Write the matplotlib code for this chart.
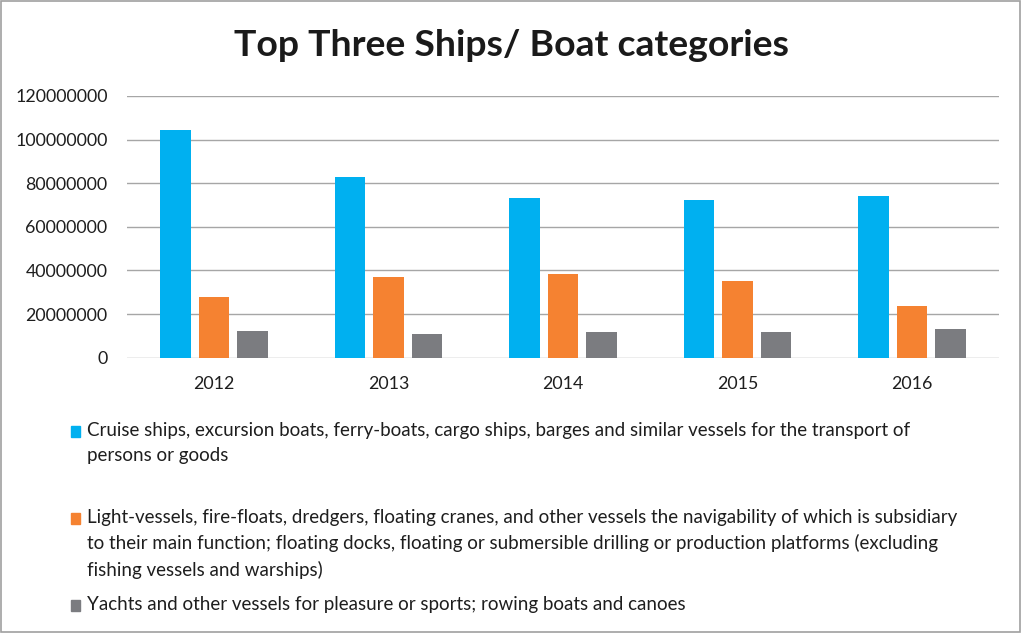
import matplotlib.pyplot as plt
import matplotlib.patches as mpatches
import numpy as np

years = ["2012", "2013", "2014", "2015", "2016"]
cruise = [104400000, 83000000, 73100000, 72200000, 74000000]
light = [27700000, 37100000, 38500000, 35300000, 23800000]
yachts = [12400000, 10900000, 11900000, 11800000, 13200000]

series_names = [
    "Cruise ships, excursion boats, ferry-boats, cargo ships, barges and similar vessels for the transport of\npersons or goods",
    "Light-vessels, fire-floats, dredgers, floating cranes, and other vessels the navigability of which is subsidiary\nto their main function; floating docks, floating or submersible drilling or production platforms (excluding\nfishing vessels and warships)",
    "Yachts and other vessels for pleasure or sports; rowing boats and canoes",
]
colors = ["#00B0F0", "#F58231", "#7B7C80"]

plt.rcParams['font.family'] = ['Lato', 'DejaVu Sans']

fig = plt.figure(figsize=(10.22, 6.35), dpi=100)
ax = fig.add_axes([127 / 1022, 1 - 357.7 / 635, (999 - 127) / 1022, (357.7 - 96) / 635])

x = np.arange(len(years))
w = 0.175
step = 0.221
for k, vals in enumerate([cruise, light, yachts]):
    ax.bar(x + (k - 1) * step, vals, width=w, color=colors[k], zorder=3)

ax.set_xlim(-0.5, len(years) - 0.5)
ax.set_ylim(0, 120000000)
ax.set_yticks(np.arange(0, 120000001, 20000000))
ax.set_yticklabels([str(v) for v in range(0, 120000001, 20000000)])
ax.set_xticks(x)
ax.set_xticklabels(years)
ax.tick_params(length=0, labelsize=12.8, colors="#1e1e1e", pad=13)
ax.tick_params(axis="y", pad=14)
ax.grid(axis="y", color="#A6A6A6", linewidth=1.0, zorder=0)
for s in ax.spines.values():
    s.set_visible(False)

fig.text(0.5, 1 - 46 / 635, "Top Three Ships/ Boat categories", ha="center", va="center",
         fontsize=26.9, fontweight="bold", color="#1a1a1a")

# legend drawn by hand to keep Excel's uneven spacing
entry_centers = [431, 518, 605]
for k, name in enumerate(series_names):
    yc = 1 - entry_centers[k] / 635
    fig.patches.append(mpatches.Rectangle((71 / 1022, yc - 5.5 / 635), 9 / 1022, 11 / 635,
                                          transform=fig.transFigure, color=colors[k]))
    fig.text(87 / 1022, 1 - (entry_centers[k] - 9) / 635, name, ha="left", va="top",
             fontsize=13.5, color="#1e1e1e", linespacing=1.55)

fig.patches.append(mpatches.Rectangle((1 / 1022, 3 / 635), 1019 / 1022, 631 / 635,
                                      transform=fig.transFigure, fill=False,
                                      edgecolor="#A0A0A0", linewidth=1.2))

fig.savefig("out.png", dpi=100)
